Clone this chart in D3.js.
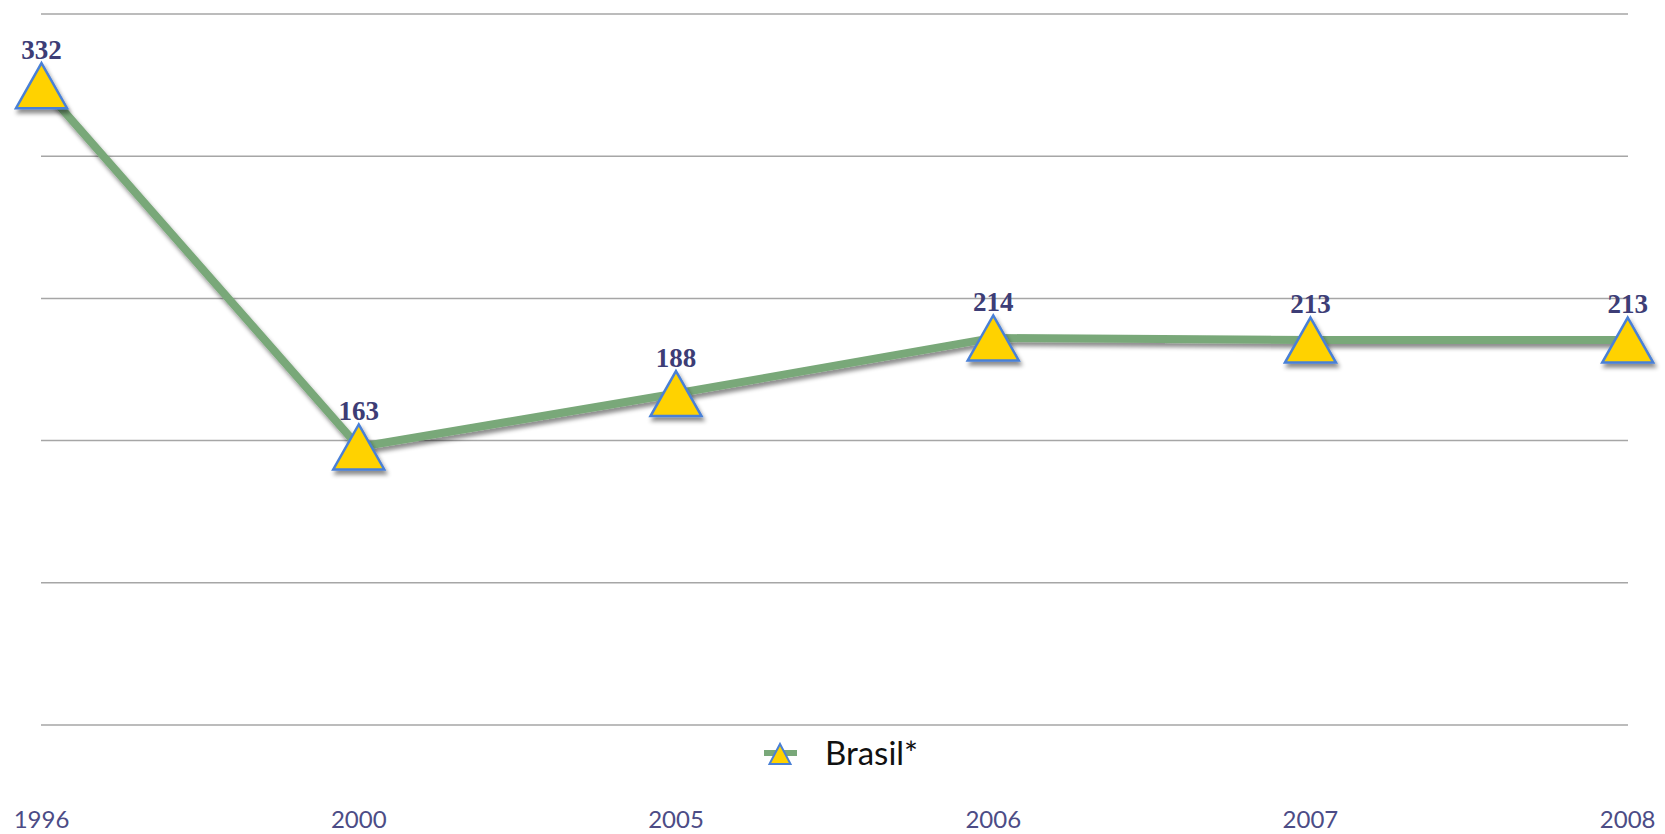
<!DOCTYPE html>
<html>
<head>
<meta charset="utf-8">
<script src="https://cdn.jsdelivr.net/npm/d3@7"></script>
<style>
  html, body { margin: 0; padding: 0; background: #fff; }
  svg { display: block; }
</style>
</head>
<body>
<div id="chart"></div>
<script>
// Brasil* - line chart
const years = ['1996', '2000', '2005', '2006', '2007', '2008'];
const values = [332, 163, 188, 214, 213, 213];
const gridValues = [33, 99.5, 166, 232.5, 299, 365.5];
const seriesName = 'Brasil*';

(function() {
  const width = 1665;
  const height = 834;

  // Colors
  const gridColor = '#a6a6a6';
  const lineColor = '#79a879';
  const markerFill = '#ffd200';
  const markerStroke = '#4a80d6';
  const labelColor = '#3d3d76';
  const axisColor = '#4c4c86';

  const svg = d3.select('#chart')
    .append('svg')
    .attr('width', width)
    .attr('height', height);

  const defs = svg.append('defs');
  const shadow = defs.append('filter')
    .attr('id', 'shadow')
    .attr('x', '-30%').attr('y', '-30%')
    .attr('width', '160%').attr('height', '160%');
  shadow.append('feDropShadow')
    .attr('dx', 2).attr('dy', 4)
    .attr('stdDeviation', 2)
    .attr('flood-color', '#000')
    .attr('flood-opacity', 0.45);

  const x = d3.scalePoint()
    .domain(years)
    .range([41.5, 1627.7]);

  const y = d3.scaleLinear()
    .domain([0, 365.5])
    .range([795.5, 14]);

  // Gridlines
  svg.append('g')
    .selectAll('line')
    .data(gridValues)
    .join('line')
    .attr('x1', 41)
    .attr('x2', 1628)
    .attr('y1', d => y(d))
    .attr('y2', d => y(d))
    .attr('stroke', gridColor)
    .attr('stroke-width', 1.5);

  const data = years.map((yr, i) => ({ year: yr, value: values[i] }));

  // Line
  const line = d3.line()
    .x(d => x(d.year))
    .y(d => y(d.value));

  svg.append('path')
    .datum(data)
    .attr('d', line)
    .attr('fill', 'none')
    .attr('stroke', lineColor)
    .attr('stroke-width', 8)
    .attr('stroke-linejoin', 'round')
    .attr('filter', 'url(#shadow)');

  // Markers
  const tri = 'M0,-22.5L25.5,22.5L-25.5,22.5Z';
  svg.append('g')
    .selectAll('path')
    .data(data)
    .join('path')
    .attr('transform', d => `translate(${x(d.year)},${y(d.value)})`)
    .attr('d', tri)
    .attr('fill', markerFill)
    .attr('stroke', markerStroke)
    .attr('stroke-width', 2.5)
    .attr('stroke-linejoin', 'miter')
    .attr('filter', 'url(#shadow)');

  // Value labels
  svg.append('g')
    .selectAll('text')
    .data(data)
    .join('text')
    .attr('x', d => x(d.year))
    .attr('y', d => y(d.value) - 27)
    .attr('text-anchor', 'middle')
    .attr('fill', labelColor)
    .attr('font-family', '"Liberation Serif", "DejaVu Serif", serif')
    .attr('font-weight', 'bold')
    .attr('font-size', '27px')
    .text(d => d.value);

  // X axis labels
  svg.append('g')
    .selectAll('text')
    .data(years)
    .join('text')
    .attr('x', d => x(d))
    .attr('y', 828)
    .attr('text-anchor', 'middle')
    .attr('fill', axisColor)
    .attr('font-family', 'Lato, "Open Sans", sans-serif')
    .attr('font-size', '24px')
    .text(d => d);

  // Legend
  const legend = svg.append('g').attr('transform', 'translate(780,754)');
  legend.append('line')
    .attr('x1', -16).attr('x2', 17)
    .attr('y1', -1).attr('y2', -1)
    .attr('stroke', lineColor)
    .attr('stroke-width', 6);
  legend.append('path')
    .attr('d', 'M0,-10L10.5,10L-10.5,10Z')
    .attr('fill', markerFill)
    .attr('stroke', markerStroke)
    .attr('stroke-width', 2);
  legend.append('text')
    .attr('x', 45)
    .attr('y', 11)
    .attr('fill', '#111')
    .attr('font-family', 'Lato, "Open Sans", sans-serif')
    .attr('font-size', '33px')
    .text(seriesName);
})();
</script>
</body>
</html>
